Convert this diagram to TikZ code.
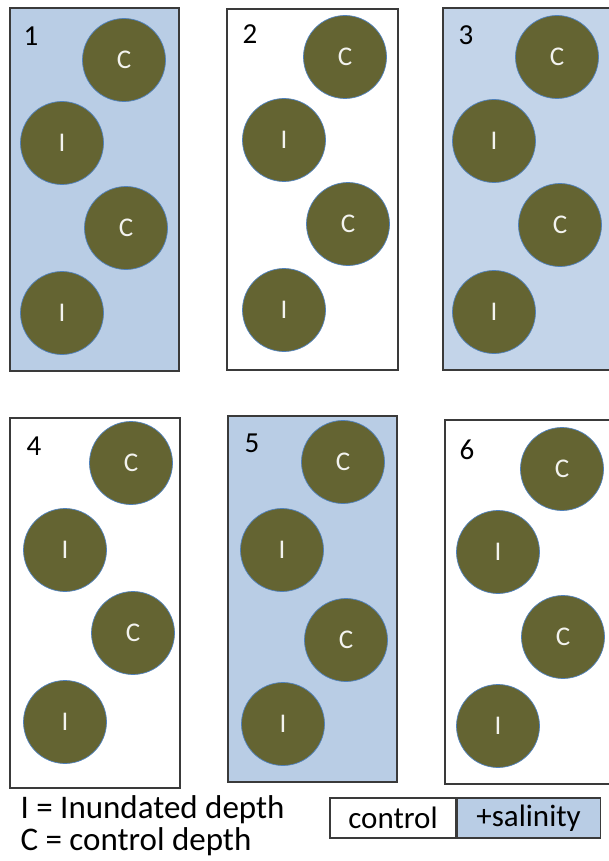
\documentclass[tikz,border=0pt]{standalone}
\usepackage{fontspec}
\setmainfont{Carlito}
\definecolor{sal}{HTML}{B9CDE5}
\definecolor{olive}{HTML}{646432}
\definecolor{rim}{HTML}{4F81BD}
\definecolor{frame}{HTML}{3A3A3A}
\begin{document}
\begin{tikzpicture}[x=1pt,y=-1pt,
  plot/.style={draw=frame,line width=1.1pt},
  core/.style={circle,fill=olive,draw=rim,line width=0.7pt,minimum size=83pt,inner sep=0pt,text=white!92!olive,font=\fontsize{27}{27}\selectfont},
  num/.style={anchor=center,font=\fontsize{29}{29}\selectfont},
  leg/.style={anchor=west,font=\fontsize{33}{33}\selectfont},
  legbox/.style={draw=frame,line width=1.1pt,minimum height=40pt,inner sep=0pt,font=\fontsize{31}{31}\selectfont}]
\useasboundingbox (0,0) rectangle (609,861);
\clip (0,0) rectangle (609,861);
% plots
\draw[plot,fill=sal] (10,8) rectangle (179,371);
\draw[plot,fill=white] (227,9) rectangle (398,370);
\draw[plot,fill=sal!85!white] (443,8) rectangle (615,370);
\draw[plot,fill=white] (10,418) rectangle (180,788);
\draw[plot,fill=sal] (228,416) rectangle (397,782);
\draw[plot,fill=white] (445,420) rectangle (615,784);
% labels
\node[num] (n1) at (31,36) {1};
\node[num] (n2) at (250,34) {2};
\node[num] (n3) at (466,35) {3};
\node[num] (n4) at (34,446) {4};
\node[num] (n5) at (252,443) {5};
\node[num] (n6) at (467,450) {6};
% cores plot 1
\node[core] (c1a) at (124,60) {C};
\node[core] (i1a) at (62,143) {I};
\node[core] (c1b) at (126,228) {C};
\node[core] (i1b) at (62,313) {I};
% plot 2
\node[core] (c2a) at (345,57) {C};
\node[core] (i2a) at (284,140) {I};
\node[core] (c2b) at (348,224) {C};
\node[core] (i2b) at (284,310) {I};
% plot 3
\node[core] (c3a) at (557,57) {C};
\node[core] (i3a) at (494,141) {I};
\node[core] (c3b) at (560,225) {C};
\node[core] (i3b) at (494,312) {I};
% plot 4
\node[core] (c4a) at (131,463) {C};
\node[core] (i4a) at (65,550) {I};
\node[core] (c4b) at (133,633) {C};
\node[core] (i4b) at (65,722) {I};
% plot 5
\node[core] (c5a) at (343,462) {C};
\node[core] (i5a) at (282,550) {I};
\node[core] (c5b) at (346,640) {C};
\node[core] (i5b) at (283,724) {I};
% plot 6
\node[core] (c6a) at (562,469) {C};
\node[core] (i6a) at (498,552) {I};
\node[core] (c6b) at (563,637) {C};
\node[core] (i6b) at (498,726) {I};
% legend
\node[leg] (l1) at (17,810) {I = Inundated depth};
\node[leg] (l2) at (17,842) {C = control depth};
\node[legbox,fill=white,minimum width=126pt] (ctl) at (393,818) {control};
\node[legbox,fill=sal,minimum width=143pt,anchor=west] (salb) at (ctl.east) {+salinity};
\end{tikzpicture}
\end{document}
